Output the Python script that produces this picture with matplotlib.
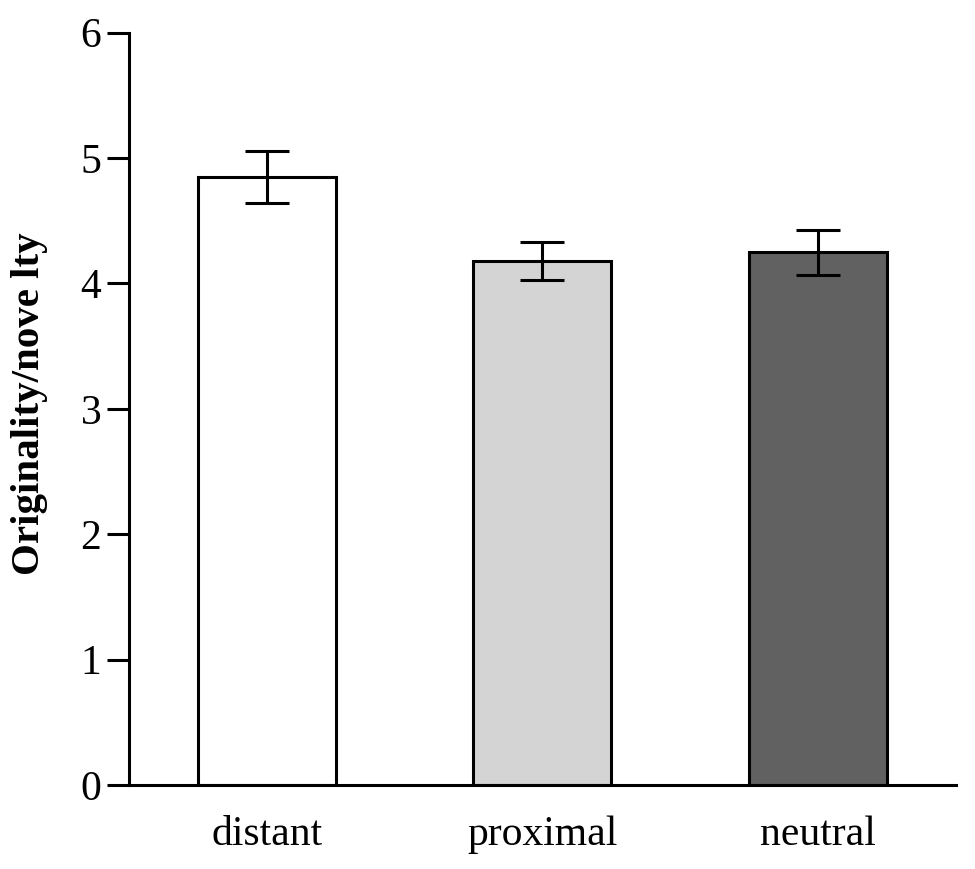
import numpy as np
import matplotlib.pyplot as plt

# values
conditions = ['distant', 'proximal', 'neutral']
means = [4.85, 4.18, 4.25]
errors = [0.21, 0.15, 0.18]
colors = ['#ffffff', '#d4d4d4', '#616161']

plt.rcParams['font.family'] = ['Liberation Serif', 'DejaVu Serif']

fig = plt.figure(figsize=(9.75, 8.69), dpi=100)
ax = fig.add_axes([0.1323, 0.0967, 0.848, 0.8657])

x = np.arange(len(conditions))
ax.bar(x, means, width=0.5, color=colors, edgecolor='black', linewidth=2.2, zorder=2)
ax.errorbar(x, means, yerr=errors, fmt='none', ecolor='black',
            elinewidth=2.2, capsize=15.5, capthick=2.2, zorder=3)

ax.set_xlim(-0.5, 2.5)
ax.set_ylim(0, 6)
ax.set_yticks(range(0, 7))
ax.set_xticks(x)
ax.set_xticklabels(conditions)

for side in ['top', 'right']:
    ax.spines[side].set_visible(False)
for side in ['left', 'bottom']:
    ax.spines[side].set_linewidth(2.2)

ax.tick_params(axis='y', direction='out', length=16, width=2.2, labelsize=30, pad=4)
ax.tick_params(axis='x', length=0, labelsize=30, pad=22)

ax.set_ylabel('Originality/nove lty', fontsize=29.5, fontweight='bold', va='center')
ax.yaxis.set_label_coords(-0.12, 0.507)

fig.savefig('out.png', dpi=100)
